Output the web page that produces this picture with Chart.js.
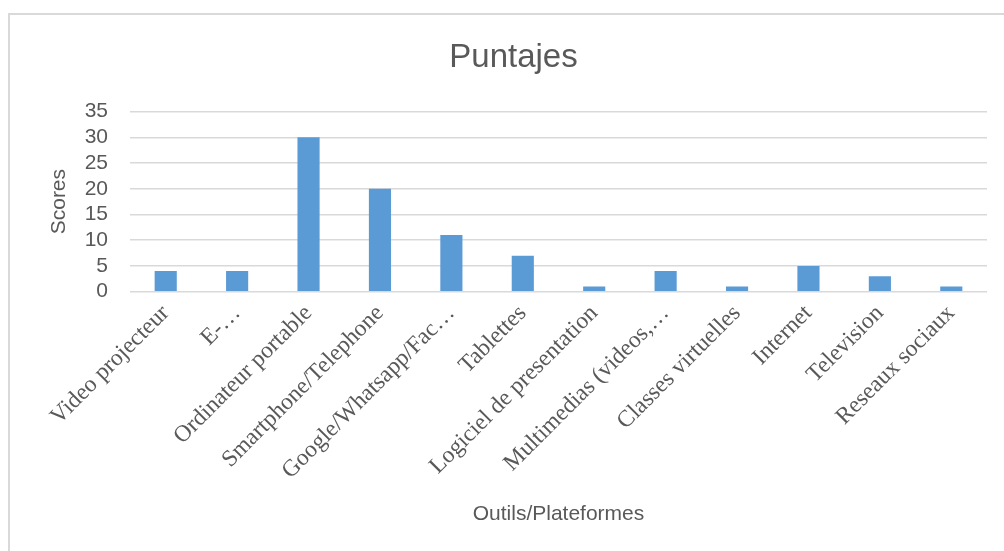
<!DOCTYPE html>
<html>
<head>
<meta charset="utf-8">
<script src="https://cdn.jsdelivr.net/npm/chart.js@4/dist/chart.umd.min.js"></script>
<style>
  html, body { margin: 0; padding: 0; background: #fff; }
  #frame { position: absolute; left: 8px; top: 13px; width: 1000px; height: 540px;
           border-left: 2px solid #d9d9d9; border-top: 2px solid #d9d9d9; }
  #wrap { position: absolute; left: 0; top: 0; width: 1004px; height: 551px; }
</style>
</head>
<body>
<div id="frame"></div>
<div id="wrap"><canvas id="scoreChart" width="1004" height="551"></canvas></div>
<script>
const outils = [
    'Video projecteur', 'E-…', 'Ordinateur portable', 'Smartphone/Telephone',
    'Google/Whatsapp/Fac…', 'Tablettes', 'Logiciel de presentation',
    'Multimedias (videos,…', 'Classes virtuelles', 'Internet', 'Television', 'Reseaux sociaux'
];
const scores = [4, 4, 30, 20, 11, 7, 1, 4, 1, 5, 3, 1];
const yTicks = [0, 5, 10, 15, 20, 25, 30, 35];

const grey = '#595959';
const sans = "'Liberation Sans', Arial, sans-serif";
const serif = "'Liberation Serif', 'Times New Roman', serif";

const ctx = document.getElementById('scoreChart').getContext('2d');
new Chart(ctx, {
    type: 'bar',
    data: {
        labels: outils,
        datasets: [{
            label: 'Scores',
            data: scores,
            backgroundColor: '#5b9bd5',
            categoryPercentage: 1,
            barPercentage: 0.31
        }]
    },
    options: {
        responsive: false,
        animation: false,
        layout: { padding: { left: 40, right: 17, top: 0, bottom: 24 } },
        plugins: {
            legend: { display: false },
            tooltip: { enabled: false },
            title: {
                display: true,
                text: 'Puntajes',
                color: grey,
                font: { family: sans, size: 33, weight: 'normal' },
                padding: { top: 38, bottom: 34 }
            }
        },
        scales: {
            x: {
                grid: { display: false },
                border: { display: false },
                ticks: {
                    color: grey,
                    font: { family: serif, size: 23.5 },
                    minRotation: 45,
                    maxRotation: 45,
                    autoSkip: false,
                    padding: 0
                },
                title: {
                    display: true,
                    text: 'Outils/Plateformes',
                    color: grey,
                    font: { family: sans, size: 21 },
                    padding: { top: 17, bottom: 0 }
                }
            },
            y: {
                min: 0,
                max: 35,
                afterBuildTicks: axis => { axis.ticks = yTicks.map(v => ({ value: v })); },
                afterFit: axis => { axis.width = 90; },
                grid: { color: '#d9d9d9', lineWidth: 1.5, drawTicks: false },
                border: { display: false },
                ticks: {
                    color: grey,
                    font: { family: sans, size: 21 },
                    padding: 22,
                    autoSkip: false
                },
                title: {
                    display: true,
                    text: 'Scores',
                    color: grey,
                    font: { family: sans, size: 21 },
                    padding: { top: 7, bottom: 12 }
                }
            }
        }
    }
});
</script>
</body>
</html>
